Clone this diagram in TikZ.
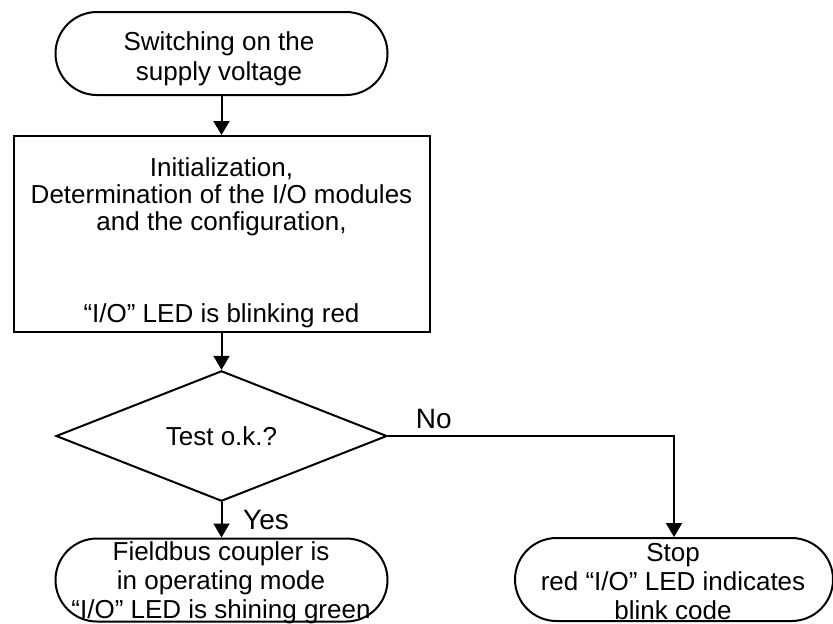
\documentclass[tikz,border=0pt]{standalone}
\usepackage{fontspec}
\setmainfont{Liberation Sans}
\usetikzlibrary{shapes.geometric,shapes.misc,arrows.meta}

\begin{document}
\begin{tikzpicture}[x=0.5pt,y=-0.5pt,
    every node/.style={font=\fontsize{13}{14.5}\selectfont, align=center},
    term/.style={rounded rectangle, draw, line width=1pt, minimum height=41.5pt, inner sep=0pt},
    proc/.style={rectangle, draw, line width=1pt, minimum width=208pt, minimum height=98pt, inner sep=0pt, font=\fontsize{13}{13.5}\selectfont},
    dec/.style={diamond, draw, line width=1pt, minimum width=165.5pt, minimum height=61.5pt, inner sep=0pt},
    lbl/.style={font=\fontsize{14}{15}\selectfont},
    flow/.style={line width=1pt, -{Triangle[length=7pt,width=8pt]}}]
      \useasboundingbox (0,0) rectangle (833,623);

      \node[term, minimum width=166pt] (start) at (221.5,53.5) {};
      \node[font=\fontsize{13}{15}\selectfont] (starttext) at (219,59) {Switching on the\\supply voltage};
      \node[proc] (init) at (221.5,234) {\rule{0pt}{18pt}Initialization,\\Determination of the I/O modules\\and the configuration,\\[32.5pt]“I/O” LED is blinking red};
      \node[dec] (test) at (221.5,436) {Test o.k.?};
      \node[term, minimum width=166pt] (ok) at (221.5,580) {};
      \node (oktext) at (221,583) {Fieldbus coupler is\\in operating mode\\“I/O” LED is shining green};
      \node[term, minimum width=159pt] (stop) at (674,579.5) {};
      \node (stoptext) at (673,582) {Stop\\red “I/O” LED indicates\\blink code};

      \draw[flow] (start) -- (init);
      \draw[flow] (init) -- (test);
      \draw[flow] (test) -- node[lbl, right=7pt] {Yes} (ok);
      \draw[flow] (test.east) -| node[lbl, pos=0.08, above] {No} (stop.north);

    \end{tikzpicture}
\end{document}
